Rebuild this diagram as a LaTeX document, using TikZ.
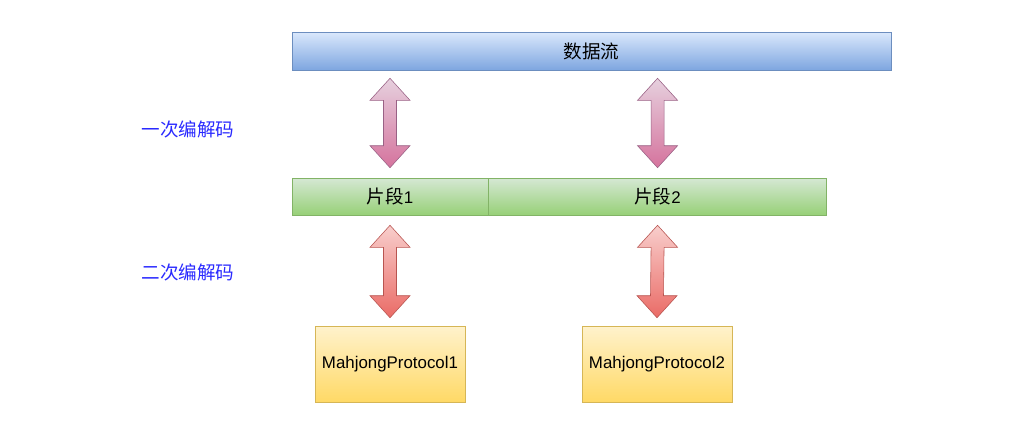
\documentclass[tikz,border=0pt]{standalone}
\usepackage{fontspec}
\setmainfont{Liberation Sans}
\newfontfamily\cjk[Scale=1.1]{Noto Sans CJK SC}
\usetikzlibrary{positioning,calc}
\definecolor{flowtop}{HTML}{DAE8FC}
\definecolor{flowbot}{HTML}{7EA6E0}
\definecolor{flowline}{HTML}{6C8EBF}
\definecolor{segtop}{HTML}{D5E8D4}
\definecolor{segbot}{HTML}{97D077}
\definecolor{segline}{HTML}{82B366}
\definecolor{prototop}{HTML}{FFF2CC}
\definecolor{protobot}{HTML}{FFD966}
\definecolor{protoline}{HTML}{D6B656}
\definecolor{pinktop}{HTML}{E6D0DE}
\definecolor{pinkbot}{HTML}{D5739D}
\definecolor{pinkline}{HTML}{996185}
\definecolor{redtop}{HTML}{F8CECC}
\definecolor{redbot}{HTML}{EA6B66}
\definecolor{redline}{HTML}{B85450}
\definecolor{labelblue}{HTML}{2A2AFF}
\newcommand\pxl{0.025cm}
\tikzset{
  box/.style={draw, inner sep=0pt, font=\fontsize{12}{14}\selectfont},
  flowbox/.style={box, draw=flowline, top color=flowtop, bottom color=flowbot},
  segbox/.style={box, draw=segline, top color=segtop, bottom color=segbot,
                 minimum height=37*\pxl},
  protobox/.style={box, draw=protoline, top color=prototop, bottom color=protobot,
                   minimum width=150*\pxl, minimum height=76*\pxl},
  codeclabel/.style={text=labelblue, font=\fontsize{12}{14}\selectfont\cjk},
  pinkarrow/.style={draw=pinkline, top color=pinktop, bottom color=pinkbot},
  redarrow/.style={draw=redline, top color=redtop, bottom color=redbot},
}
% fat double arrow between two points; #4 = gap at the top, #5 = gap at the bottom
\newcommand\fatarrow[5]{%
  \coordinate (fa-a) at ($(#2)+(0,#4)$);
  \coordinate (fa-b) at ($(#3)+(0,-#5)$);
  \draw[#1] (fa-a) -- ($(fa-a)+(20,22)$) -- ($(fa-a)+(6.5,22)$)
    -- ($(fa-b)+(6.5,-22)$) -- ($(fa-b)+(20,-22)$) -- (fa-b)
    -- ($(fa-b)+(-20,-22)$) -- ($(fa-b)+(-6.5,-22)$)
    -- ($(fa-a)+(-6.5,22)$) -- ($(fa-a)+(-20,22)$) -- cycle;
}

\begin{document}
\begin{tikzpicture}[x=0.025cm, y=-0.025cm]
  \useasboundingbox (0,0) rectangle (1026,436);
  \node[flowbox, minimum width=599*\pxl, minimum height=38*\pxl] (flow) at (591.5,51) {{\cjk 数据流}};
  \node[segbox, minimum width=196*\pxl] (seg1) at (390,196.5) {{\cjk 片段}1};
  \node[segbox, minimum width=338*\pxl, right=0pt of seg1] (seg2) {{\cjk 片段}2};
  \node[protobox] (proto1) at (390,364) {MahjongProtocol1};
  \node[protobox] (proto2) at (657,364) {MahjongProtocol2};
  \node[codeclabel] (lab1) at (188,129) {一次编解码};
  \node[codeclabel] (lab2) at (188,272) {二次编解码};
  % decode arrows
  \fatarrow{pinkarrow}{seg1.north |- flow.south}{seg1.north}{8}{10}
  \fatarrow{pinkarrow}{seg2.north |- flow.south}{seg2.north}{8}{10}
  \fatarrow{redarrow}{seg1.south}{proto1.north}{10}{8}
  \fatarrow{redarrow}{seg2.south}{proto2.north}{10}{8}
\end{tikzpicture}
\end{document}
